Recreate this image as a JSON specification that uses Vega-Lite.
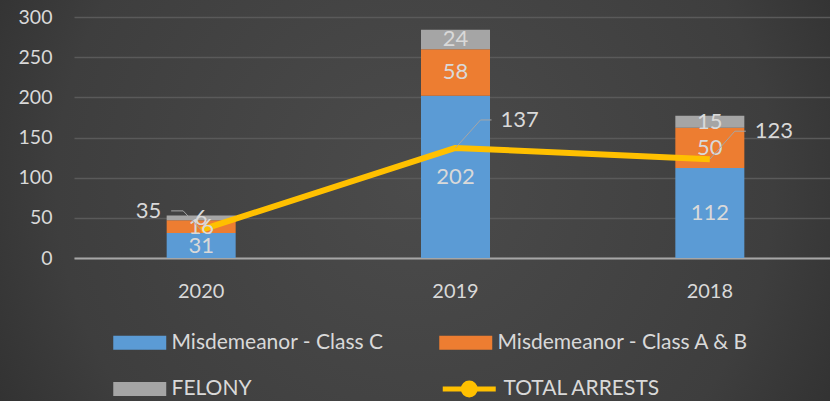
{
  "$schema": "https://vega.github.io/schema/vega-lite/v6.json",
  "width": 830,
  "height": 401,
  "autosize": {"type": "none"},
  "padding": 0,
  "background": "#333333",
  "config": {
    "font": "Lato",
    "view": {
      "stroke": null,
      "fill": {
        "gradient": "radial",
        "x1": 0.5, "y1": 0.48, "x2": 0.5, "y2": 0.48, "r1": 0, "r2": 0.72,
        "stops": [
          {"offset": 0, "color": "#4b4b4b"},
          {"offset": 0.6, "color": "#3e3e3e"},
          {"offset": 1, "color": "#252525"}
        ]
      }
    }
  },
  "datasets": {
    "bars": [
      {"year": "2020", "category": "Misdemeanor - Class C", "order": 1, "value": 31},
      {"year": "2020", "category": "Misdemeanor - Class A & B", "order": 2, "value": 16},
      {"year": "2020", "category": "FELONY", "order": 3, "value": 6},
      {"year": "2019", "category": "Misdemeanor - Class C", "order": 1, "value": 202},
      {"year": "2019", "category": "Misdemeanor - Class A & B", "order": 2, "value": 58},
      {"year": "2019", "category": "FELONY", "order": 3, "value": 24},
      {"year": "2018", "category": "Misdemeanor - Class C", "order": 1, "value": 112},
      {"year": "2018", "category": "Misdemeanor - Class A & B", "order": 2, "value": 50},
      {"year": "2018", "category": "FELONY", "order": 3, "value": 15}
    ],
    "totals": [
      {"year": "2020", "total": 35},
      {"year": "2019", "total": 137},
      {"year": "2018", "total": 123}
    ]
  },
  "encoding": {
    "x": {
      "field": "year", "type": "nominal",
      "scale": {"domain": ["2020", "2019", "2018"], "range": [74, 837], "paddingInner": 0, "paddingOuter": 0},
      "axis": {
        "orient": "bottom", "offset": -143, "title": null, "labelAngle": 0,
        "domainColor": "#a6a6a6", "domainWidth": 2, "ticks": false,
        "labelColor": "#d9d9d9", "labelFontSize": 20, "labelPadding": 23, "grid": false
      }
    }
  },
  "layer": [
    {
      "data": {"name": "bars"},
      "transform": [
        {"stack": "value", "groupby": ["year"], "sort": [{"field": "order"}], "as": ["v0", "v1"]}
      ],
      "mark": {"type": "bar", "size": 69},
      "encoding": {
        "y": {
          "field": "v0", "type": "quantitative",
          "scale": {"domain": [0, 300], "range": [258, 17], "nice": false},
          "axis": {
            "orient": "left", "offset": -74, "title": null,
            "values": [0, 50, 100, 150, 200, 250, 300],
            "grid": true, "gridColor": "#5a5a5a", "gridWidth": 1.3,
            "domain": false, "ticks": false,
            "labelColor": "#d9d9d9", "labelFontSize": 19.5, "labelPadding": 22
          }
        },
        "y2": {"field": "v1"},
        "fill": {
          "field": "category", "type": "nominal",
          "scale": {
            "domain": ["Misdemeanor - Class C", "Misdemeanor - Class A & B", "FELONY"],
            "range": ["#5b9bd5", "#ed7d31", "#a5a5a5"]
          },
          "legend": {
            "orient": "none", "legendX": 113, "legendY": 329,
            "title": null, "columns": 2, "direction": "horizontal",
            "symbolType": "M-1,-0.53H3V0.53H-1Z", "symbolSize": 702,
            "symbolStrokeWidth": 0,
            "labelOffset": 31.5, "labelFontSize": 21, "labelColor": "#d9d9d9",
            "labelLimit": 400,
            "columnPadding": 55, "rowPadding": 22.5, "padding": 0
          }
        },
        "order": {"field": "order"}
      }
    },
    {
      "data": {"name": "totals"},
      "mark": {"type": "line", "strokeWidth": 6, "strokeJoin": "round"},
      "encoding": {
        "y": {"field": "total", "type": "quantitative"},
        "stroke": {
          "datum": "TOTAL ARRESTS",
          "scale": {"range": ["#FFC000"]},
          "legend": {
            "orient": "none", "legendX": 440, "legendY": 373,
            "title": null,
            "symbolType": "M-1,0H3M1.45,0A0.45,0.45 0 1,1 0.55,0A0.45,0.45 0 1,1 1.45,0Z",
            "symbolSize": 702, "symbolStrokeWidth": 5,
            "symbolFillColor": "#FFC000", "symbolStrokeColor": "#FFC000",
            "labelOffset": 31.5, "labelFontSize": 21, "labelColor": "#d9d9d9",
            "padding": 0
          }
        }
      }
    },
    {
      "data": {"name": "bars"},
      "transform": [
        {"stack": "value", "groupby": ["year"], "sort": [{"field": "order"}], "as": ["v0", "v1"]},
        {"calculate": "(datum.v0 + datum.v1) / 2", "as": "mid"}
      ],
      "mark": {"type": "text", "fontSize": 22, "color": "#d9d9d9", "baseline": "middle", "align": "center"},
      "encoding": {
        "y": {"field": "mid", "type": "quantitative"},
        "text": {"field": "value", "type": "quantitative"}
      }
    },
    {
      "data": {"name": "totals"},
      "transform": [{"filter": "datum.year != '2020'"}],
      "mark": {"type": "rule", "color": "#a6a6a6", "strokeWidth": 1, "x2Offset": 25, "y2Offset": -28},
      "encoding": {
        "y": {"field": "total", "type": "quantitative"},
        "x2": {"field": "year"},
        "y2": {"field": "total"}
      }
    },
    {
      "data": {"name": "totals"},
      "transform": [{"filter": "datum.year != '2020'"}],
      "mark": {"type": "rule", "color": "#a6a6a6", "strokeWidth": 1, "xOffset": 25, "yOffset": -28, "x2Offset": 36, "y2Offset": -28},
      "encoding": {
        "y": {"field": "total", "type": "quantitative"},
        "x2": {"field": "year"},
        "y2": {"field": "total"}
      }
    },
    {
      "data": {"name": "totals"},
      "transform": [{"filter": "datum.year == '2020'"}],
      "mark": {"type": "rule", "color": "#a6a6a6", "strokeWidth": 1, "x2Offset": -18, "y2Offset": -19},
      "encoding": {
        "y": {"field": "total", "type": "quantitative"},
        "x2": {"field": "year"},
        "y2": {"field": "total"}
      }
    },
    {
      "data": {"name": "totals"},
      "transform": [{"filter": "datum.year == '2020'"}],
      "mark": {"type": "rule", "color": "#a6a6a6", "strokeWidth": 1, "xOffset": -18, "yOffset": -19, "x2Offset": -30, "y2Offset": -19},
      "encoding": {
        "y": {"field": "total", "type": "quantitative"},
        "x2": {"field": "year"},
        "y2": {"field": "total"}
      }
    },
    {
      "data": {"name": "totals"},
      "transform": [{"filter": "datum.year != '2020'"}],
      "mark": {"type": "text", "fontSize": 22, "color": "#d9d9d9", "align": "left", "baseline": "middle", "dx": 45, "dy": -28},
      "encoding": {
        "y": {"field": "total", "type": "quantitative"},
        "text": {"field": "total", "type": "quantitative"}
      }
    },
    {
      "data": {"name": "totals"},
      "transform": [{"filter": "datum.year == '2020'"}],
      "mark": {"type": "text", "fontSize": 22, "color": "#d9d9d9", "align": "right", "baseline": "middle", "dx": -40, "dy": -19},
      "encoding": {
        "y": {"field": "total", "type": "quantitative"},
        "text": {"field": "total", "type": "quantitative"}
      }
    }
  ]
}
